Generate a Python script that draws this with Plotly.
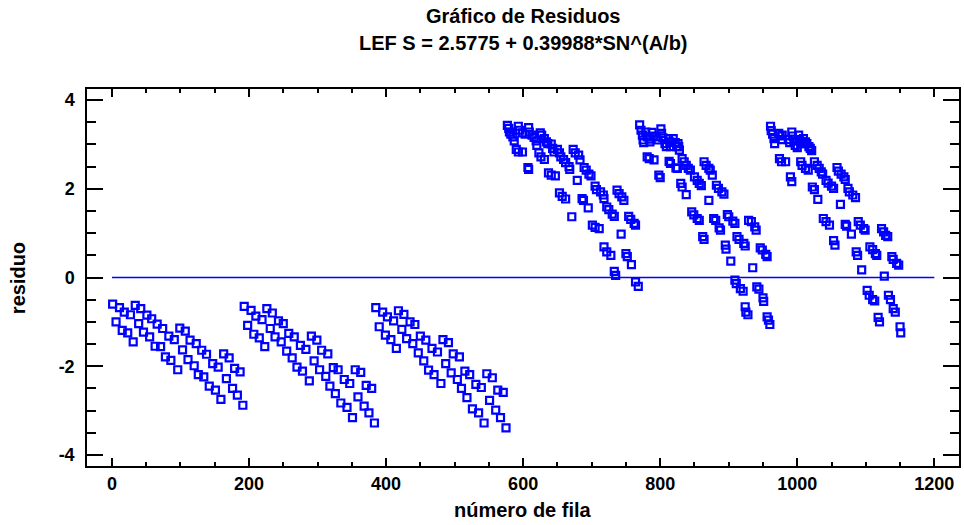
import plotly.graph_objects as go

# ---- data (row number, residual) ----
block_rows = [1, 6, 11, 15, 18, 23, 27, 31, 34, 39, 42, 46, 51, 55, 58, 63, 66, 71, 74, 78,
              83, 86, 91, 96, 99, 103, 107, 111, 114, 120, 123, 126, 131, 134, 138, 142,
              147, 151, 155, 159, 163, 167, 171, 176, 179, 183, 187, 191]
block_starts = [0, 192, 384]

resid_g1 = [-0.60, -1.00, -0.68, -1.19, -0.78, -1.25, -0.84, -1.45,
            -0.63, -1.04, -0.70, -1.23, -0.85, -1.34, -0.93, -1.55, -1.05, -1.56, -1.15, -1.79, -1.32, -1.87, -1.40, -2.08,
            -1.14, -1.63, -1.21, -1.85, -1.41, -1.99, -1.49, -2.19, -1.64, -2.24, -1.73, -2.45, -1.94, -2.54, -2.02, -2.75,
            -1.72, -2.28, -1.81, -2.50, -2.05, -2.65, -2.13, -2.88]
resid_g2 = [-0.65, -1.08, -0.74, -1.28, -0.87, -1.36, -0.95, -1.56,
            -0.70, -1.15, -0.80, -1.34, -0.98, -1.45, -1.04, -1.66, -1.26, -1.81, -1.34, -2.02, -1.53, -2.11, -1.62, -2.33,
            -1.32, -1.88, -1.41, -2.08, -1.64, -2.23, -1.72, -2.45, -2.03, -2.62, -2.08, -2.83, -2.30, -2.93, -2.39, -3.16,
            -2.08, -2.69, -2.14, -2.90, -2.43, -3.05, -2.50, -3.28]
resid_g3 = [-0.68, -1.11, -0.78, -1.30, -0.89, -1.40, -0.98, -1.60,
            -0.75, -1.17, -0.83, -1.38, -1.00, -1.49, -1.06, -1.70, -1.32, -1.88, -1.41, -2.09, -1.60, -2.19, -1.68, -2.39,
            -1.40, -1.94, -1.47, -2.15, -1.72, -2.30, -1.79, -2.50, -2.11, -2.71, -2.19, -2.96, -2.41, -3.05, -2.48, -3.28,
            -2.17, -2.77, -2.26, -2.99, -2.54, -3.16, -2.59, -3.39]

rows_g4 = [577, 579, 580, 582, 585, 587, 593, 595, 599, 603, 608, 609, 613, 616, 619, 620, 625, 627, 631, 634, 636,
           641, 643, 645, 650, 653, 655, 659, 662, 667, 668, 590, 593, 599, 607, 608, 623, 626, 631, 637, 641, 647,
           653, 657, 662, 671, 673, 676, 681, 683, 689, 692, 696, 699, 679, 705, 707, 713, 717, 718, 686, 688, 695,
           701, 705, 711, 722, 725, 730, 733, 737, 740, 744, 747, 718, 722, 728, 743, 754, 757, 762, 764, 750, 752,
           758, 733, 735, 764, 768]
resid_g4 = [3.43, 3.36, 3.28, 3.23, 3.17, 3.08, 3.41, 3.32, 3.26, 3.23, 3.38, 3.28, 3.21, 3.16, 3.08, 2.98, 3.26, 3.21,
            3.13, 3.06, 3.02, 3.01, 2.91, 2.83, 2.89, 2.81, 2.72, 2.66, 2.59, 2.50, 2.44, 2.89, 2.83, 2.83, 2.48, 2.44,
            2.81, 2.72, 2.66, 2.36, 2.31, 2.29, 1.91, 1.83, 1.77, 1.37, 2.89, 2.81, 2.76, 2.65, 2.48, 2.42, 2.33, 2.29,
            2.19, 2.06, 1.98, 1.93, 1.86, 1.78, 1.78, 1.74, 1.57, 1.18, 1.13, 1.10, 1.59, 1.53, 1.43, 1.38, 1.97, 1.89,
            1.82, 1.74, 0.69, 0.58, 0.50, 0.98, 1.38, 1.31, 1.22, 1.18, 0.54, 0.47, 0.29, 0.14, 0.05, -0.10, -0.20]

rows_g5 = [770, 772, 774, 775, 776, 779, 781, 784, 785, 788, 790, 794, 797, 801, 802, 804, 807, 809, 812, 814, 815,
           819, 822, 824, 826, 827, 828, 781, 784, 791, 798, 800, 813, 815, 823, 825, 832, 835, 838, 841, 844, 830,
           832, 838, 850, 854, 857, 860, 864, 867, 871, 873, 876, 882, 885, 890, 893, 871, 846, 849, 854, 857, 862,
           864, 878, 881, 886, 888, 898, 900, 906, 909, 895, 896, 903, 912, 915, 922, 924, 929, 933, 938, 940, 935,
           946, 949, 954, 956, 909, 911, 917, 921, 941, 944, 950, 951, 924, 925, 928, 956, 958, 960]
resid_g5 = [3.44, 3.32, 3.21, 3.10, 3.04, 3.28, 3.17, 3.12, 3.06, 3.27, 3.19, 3.17, 3.10, 3.35, 3.25, 3.15, 3.02, 2.95,
            3.13, 3.06, 2.95, 3.13, 3.04, 2.95, 3.02, 2.95, 2.87, 2.72, 2.68, 2.65, 2.31, 2.25, 2.62, 2.57, 2.47, 2.46,
            2.68, 2.61, 2.53, 2.46, 2.42, 2.12, 2.04, 1.87, 2.27, 2.19, 2.12, 2.07, 2.61, 2.53, 2.46, 2.42, 2.31, 2.08,
            2.01, 1.93, 1.88, 1.74, 1.48, 1.41, 1.33, 1.29, 0.92, 0.86, 1.33, 1.29, 1.12, 1.07, 1.42, 1.37, 1.27, 1.22,
            0.73, 0.64, 0.37, 0.92, 0.86, 0.77, 0.71, 1.29, 1.26, 1.14, 1.07, 0.22, 0.67, 0.62, 0.52, 0.47, -0.06,
            -0.14, -0.25, -0.31, -0.21, -0.26, -0.46, -0.54, -0.66, -0.78, -0.84, -0.89, -0.96, -1.06]

rows_g6 = [961, 962, 964, 966, 967, 973, 975, 978, 978, 987, 989, 992, 993, 995, 997, 1000, 1002, 1003, 1005, 1007,
           1009, 1012, 1014, 1017, 1019, 1021, 974, 977, 983, 990, 992, 1005, 1007, 1012, 1016, 1025, 1029, 1032,
           1035, 1037, 1022, 1025, 1030, 1042, 1045, 1050, 1053, 1058, 1060, 1064, 1068, 1070, 1074, 1076, 1081,
           1085, 1063, 1038, 1042, 1047, 1053, 1055, 1070, 1072, 1079, 1089, 1092, 1097, 1099, 1086, 1088, 1094,
           1106, 1110, 1114, 1116, 1123, 1126, 1129, 1132, 1127, 1102, 1105, 1110, 1113, 1138, 1140, 1145, 1148,
           1118, 1120, 1133, 1136, 1140, 1143, 1150, 1151]
resid_g6 = [3.41, 3.31, 3.23, 3.13, 3.02, 3.25, 3.19, 3.21, 3.11, 3.11, 3.04, 3.28, 3.19, 3.08, 2.98, 2.93, 3.21, 3.11,
            3.02, 3.06, 3.13, 3.06, 3.02, 2.95, 2.91, 2.86, 2.68, 2.61, 2.61, 2.27, 2.16, 2.61, 2.53, 2.46, 2.42, 2.61,
            2.53, 2.46, 2.38, 2.33, 2.04, 1.98, 1.76, 2.19, 2.13, 2.06, 2.01, 2.48, 2.40, 2.33, 2.27, 2.21, 2.01, 1.93,
            1.86, 1.80, 1.65, 1.33, 1.26, 1.18, 0.83, 0.73, 1.20, 1.16, 0.98, 1.26, 1.18, 1.10, 1.07, 0.58, 0.50, 0.17,
            0.69, 0.63, 0.54, 0.50, 1.10, 1.03, 0.95, 0.92, 0.03, -0.29, -0.40, -0.50, -0.53, 0.47, 0.41, 0.32, 0.28,
            -0.90, -1.00, -0.40, -0.50, -0.70, -0.78, -1.11, -1.25]

x_ticks = [0, 200, 400, 600, 800, 1000, 1200]
x_ticktext = ["0", "200", "400", "600", "800", "1000", "1200"]
y_ticks = [-4, -2, 0, 2, 4]
y_ticktext = ["-4", "-2", "0", "2", "4"]

title1 = "Gráfico de Residuos"
title2 = "LEF S = 2.5775 + 0.39988*SN^(A/b)"
x_title = "número de fila"
y_title = "residuo"

# ---- assemble ----
xs, ys = [], []
for start, res in zip(block_starts, [resid_g1, resid_g2, resid_g3]):
    xs += [start + r for r in block_rows]
    ys += res
for rr, res in [(rows_g4, resid_g4), (rows_g5, resid_g5), (rows_g6, resid_g6)]:
    xs += rr
    ys += res

BLUE = "#0000FF"
FONT = "Liberation Sans, Arial, sans-serif"

fig = go.Figure()
fig.add_trace(go.Scatter(x=[0, 1200], y=[0, 0], mode="lines",
                         line=dict(color=BLUE, width=1.5), hoverinfo="skip", showlegend=False))
fig.add_trace(go.Scatter(x=xs, y=ys, mode="markers", showlegend=False,
                         marker=dict(symbol="square-open", size=7, color=BLUE,
                                     line=dict(color=BLUE, width=2.2))))

axis_common = dict(showline=True, linecolor="black", linewidth=1.5, mirror="ticks",
                   ticks="inside", tickcolor="black", tickwidth=1.5, showgrid=False,
                   zeroline=False,
                   tickfont=dict(family=FONT, size=18, color="black", weight="bold"))

fig.update_xaxes(range=[-36.4, 1236], tickvals=x_ticks, ticktext=x_ticktext, ticklen=8,
                 minor=dict(dtick=50, ticklen=4, ticks="inside", tickcolor="black", tickwidth=1.5,
                            showgrid=False),
                 ticklabelstandoff=1, **axis_common)
fig.update_yaxes(range=[-4.25, 4.25], tickvals=y_ticks, ticktext=y_ticktext, ticklen=16,
                 minor=dict(dtick=0.5, ticklen=9, ticks="inside", tickcolor="black", tickwidth=1.5,
                            showgrid=False),
                 ticklabelstandoff=7, **axis_common)

H = 466 - 89
W = 961 - 87
fig.update_layout(
    width=964, height=525,
    margin=dict(l=87, r=3, t=89, b=59),
    paper_bgcolor="white", plot_bgcolor="white",
    annotations=[
        dict(text=title1, xref="paper", yref="paper", x=0.5, y=1 + (89 - 16) / H,
             showarrow=False, xanchor="center", yanchor="middle",
             font=dict(family=FONT, size=20, color="black", weight="bold")),
        dict(text=title2, xref="paper", yref="paper", x=0.5, y=1 + (89 - 43) / H,
             showarrow=False, xanchor="center", yanchor="middle",
             font=dict(family=FONT, size=20, color="black", weight="bold")),
        dict(text=x_title, xref="paper", yref="paper", x=0.5, y=(466 - 510) / H,
             showarrow=False, xanchor="center", yanchor="middle",
             font=dict(family=FONT, size=20, color="black", weight="bold")),
        dict(text=y_title, xref="paper", yref="paper", x=(18 - 87) / W, y=(466 - 278) / H,
             showarrow=False, xanchor="center", yanchor="middle", textangle=-90,
             font=dict(family=FONT, size=20, color="black", weight="bold")),
    ],
)

fig.write_html("out.html")
